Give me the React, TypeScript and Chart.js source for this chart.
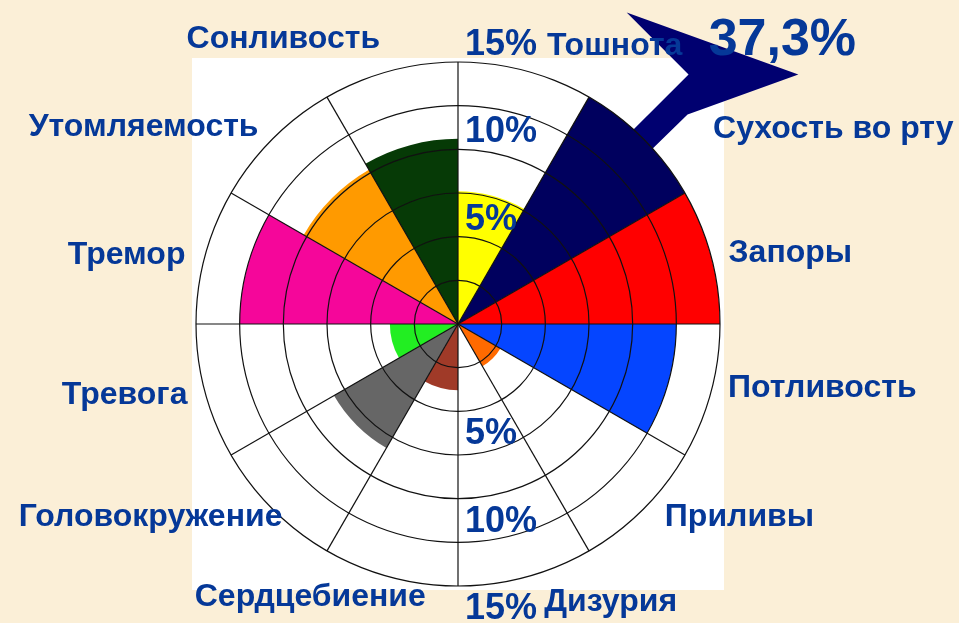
import React, { useEffect, useRef } from 'react';
import { Chart, registerables } from 'chart.js';

Chart.register(...registerables);

// ---- data ----
const CATEGORIES = [
  'Тошнота',
  'Сухость во рту',
  'Запоры',
  'Потливость',
  'Приливы',
  'Дизурия',
  'Сердцебиение',
  'Головокружение',
  'Тревога',
  'Тремор',
  'Утомляемость',
  'Сонливость',
];
const FREQUENCY = [7.6, 37.3, 15, 12.5, 2.8, 0, 3.8, 8.2, 3.9, 12.5, 10.2, 10.6];
const AXIS_MIN = 0;
const AXIS_MAX = 15;
const AXIS_STEP = 2.5;
const TICK_LABELS = [5, 10, 15];
const CALLOUT_INDEX = 1;

// ---- styles / layout ----
const SECTOR_COLORS = [
  '#FFFF00',
  '#00005E',
  '#FF0000',
  '#0545FF',
  '#FF6A00',
  '#FFFFFF',
  '#A03A28',
  '#666666',
  '#22EE22',
  '#F5069A',
  '#FF9A00',
  '#063A06',
];
const BG = '#FBEFD7';
const TEXT_COLOR = '#053898';
const ARROW_COLOR = '#000070';
const FONT = '"Liberation Sans", Arial, sans-serif';
const REF_R = 262.5;
// label anchor offsets (centre x, baseline y) from the polar centre, at reference radius
const LABEL_OFFSETS: [number, number][] = [
  [157, -270],
  [376, -186],
  [333, -62],
  [365, 73],
  [282, 202],
  [153, 288],
  [-148, 283],
  [-308, 202],
  [-334, 80],
  [-332, -60],
  [-315, -188],
  [-175, -277],
];
// callout arrow polygon offsets from the polar centre, at reference radius
const ARROW_SHAPE: [number, number][] = [
  [169, -312],
  [341, -250],
  [230, -210],
  [182, -163],
  [154, -173],
  [231, -250],
];
const CALLOUT_TEXT_OFFSET: [number, number] = [325, -270];

const decorPlugin = {
  id: 'decor',
  beforeDraw(chart: any) {
    const { ctx, width, height } = chart;
    const s = chart.scales.r;
    const R = s.drawingArea;
    ctx.save();
    ctx.fillStyle = BG;
    ctx.fillRect(0, 0, width, height);
    ctx.fillStyle = '#FFFFFF';
    ctx.fillRect(s.xCenter - R - 4, s.yCenter - R - 4, 2 * R + 8, 2 * R + 8);
    ctx.restore();
  },
  beforeDatasetsDraw(chart: any) {
    const { ctx } = chart;
    const s = chart.scales.r;
    const k = s.drawingArea / REF_R;
    ctx.save();
    ctx.fillStyle = ARROW_COLOR;
    ctx.beginPath();
    ARROW_SHAPE.forEach(([dx, dy], i) => {
      const x = s.xCenter + dx * k;
      const y = s.yCenter + dy * k;
      if (i === 0) ctx.moveTo(x, y);
      else ctx.lineTo(x, y);
    });
    ctx.closePath();
    ctx.fill();
    ctx.restore();
  },
  afterDraw(chart: any) {
    const { ctx } = chart;
    const s = chart.scales.r;
    const k = s.drawingArea / REF_R;
    const cx = s.xCenter;
    const cy = s.yCenter;
    ctx.save();
    ctx.fillStyle = TEXT_COLOR;
    ctx.textBaseline = 'alphabetic';

    // category labels
    ctx.font = `bold 32px ${FONT}`;
    ctx.textAlign = 'center';
    CATEGORIES.forEach((label, i) => {
      const [dx, dy] = LABEL_OFFSETS[i];
      ctx.fillText(label, cx + dx * k, cy + dy * k);
    });

    // percentage ring labels (top and bottom of the vertical axis)
    ctx.font = `bold 36px ${FONT}`;
    ctx.textAlign = 'left';
    TICK_LABELS.forEach((v) => {
      const d = s.getDistanceFromCenterForValue(v);
      ctx.fillText(`${v}%`, cx + 7, cy - d - 7);
      ctx.fillText(`${v}%`, cx + 7, cy + d + 33);
    });

    // callout value for the clipped sector
    ctx.font = `bold 52px ${FONT}`;
    ctx.textAlign = 'center';
    const txt = FREQUENCY[CALLOUT_INDEX].toFixed(1).replace('.', ',') + '%';
    ctx.fillText(txt, cx + CALLOUT_TEXT_OFFSET[0] * k, cy + CALLOUT_TEXT_OFFSET[1] * k);
    ctx.restore();
  },
};

export default function App() {
  const ref = useRef<HTMLCanvasElement | null>(null);

  useEffect(() => {
    if (!ref.current) return;
    const chart = new Chart(ref.current, {
      type: 'polarArea',
      data: {
        labels: CATEGORIES,
        datasets: [
          {
            data: FREQUENCY.map((v) => Math.min(v, AXIS_MAX)),
            backgroundColor: SECTOR_COLORS,
            borderWidth: 0,
          },
        ],
      },
      options: {
        responsive: false,
        animation: false,
        devicePixelRatio: 1,
        layout: { padding: { left: 195, right: 238, top: 62, bottom: 36 } },
        plugins: {
          legend: { display: false },
          tooltip: { enabled: false },
        },
        scales: {
          r: {
            min: AXIS_MIN,
            max: AXIS_MAX,
            startAngle: 0,
            ticks: { display: false, stepSize: AXIS_STEP },
            grid: { circular: true, color: '#111111', lineWidth: 1.2, z: 1 },
            angleLines: { display: true, color: '#111111', lineWidth: 1.2 },
            pointLabels: { display: false },
          },
        },
      } as any,
      plugins: [decorPlugin],
    });
    return () => chart.destroy();
  }, []);

  return (
    <div
      style={{
        position: 'fixed',
        left: 0,
        top: 0,
        width: 959,
        height: 623,
        background: BG,
        overflow: 'hidden',
      }}
    >
      <canvas ref={ref} width={959} height={623} style={{ display: 'block' }} />
    </div>
  );
}
